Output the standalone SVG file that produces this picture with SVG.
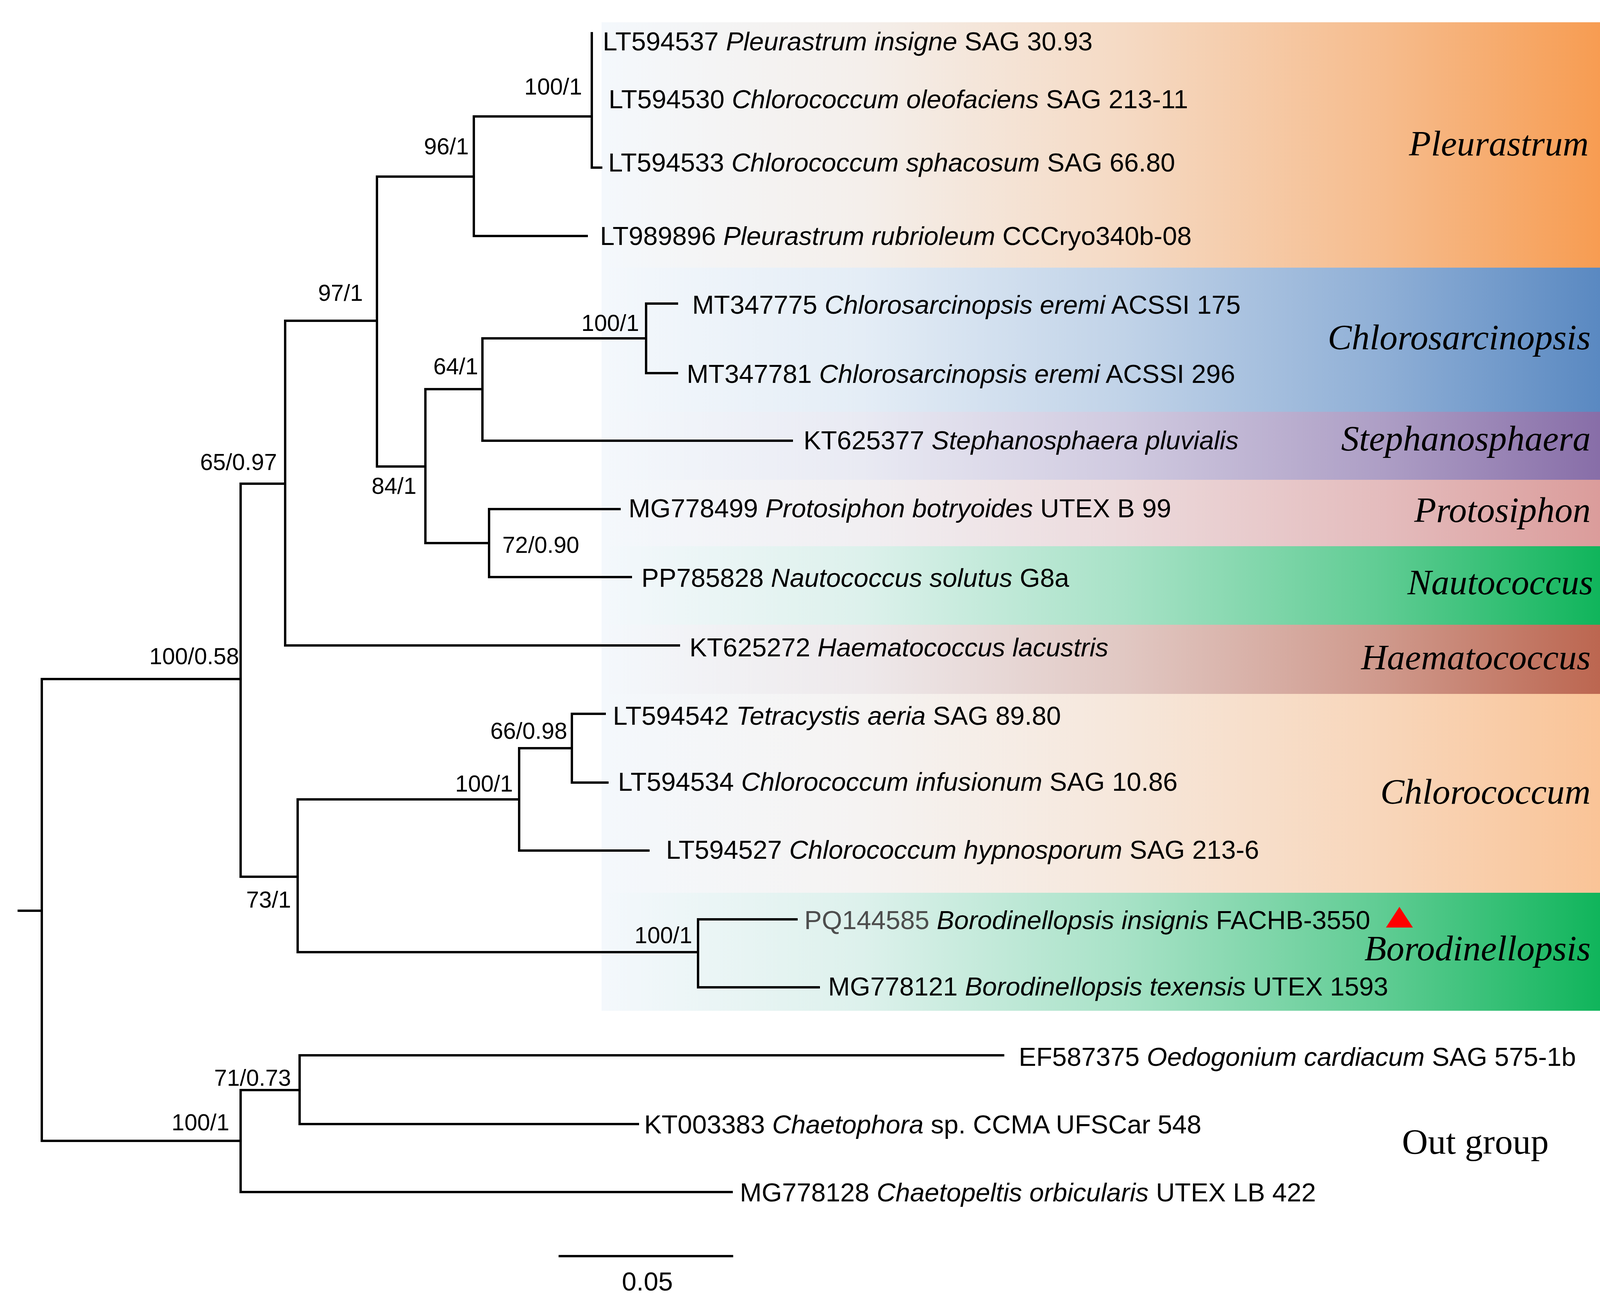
<svg xmlns="http://www.w3.org/2000/svg" width="4248" height="3335" viewBox="0 0 4248 3335">
<style>
.br{fill:none;stroke:#000;stroke-width:6;stroke-linejoin:miter}
.tip{font-family:"Liberation Sans",Arial,sans-serif;font-size:67px;fill:#000}
.sup{font-family:"Liberation Sans",Arial,sans-serif;font-size:59px;fill:#000}
.clade{font-family:"Liberation Serif","Times New Roman",serif;font-style:italic;font-size:92px;fill:#000}
.i{font-style:italic}
</style>
<defs>
<linearGradient id="gPl" x1="0" y1="0" x2="1" y2="0"><stop offset="0" stop-color="#f4f8fc"/><stop offset="0.25" stop-color="#f4efeb"/><stop offset="0.5" stop-color="#f5dac4"/><stop offset="0.75" stop-color="#f6bc8d"/><stop offset="1" stop-color="#f79646"/></linearGradient>
<linearGradient id="gCs" x1="0" y1="0" x2="1" y2="0"><stop offset="0" stop-color="#f4f8fc"/><stop offset="0.25" stop-color="#e4edf6"/><stop offset="0.5" stop-color="#c1d3e8"/><stop offset="0.75" stop-color="#8fafd6"/><stop offset="1" stop-color="#4f81bd"/></linearGradient>
<linearGradient id="gSt" x1="0" y1="0" x2="1" y2="0"><stop offset="0" stop-color="#f4f8fc"/><stop offset="0.25" stop-color="#e9eaf3"/><stop offset="0.5" stop-color="#d0cae0"/><stop offset="0.75" stop-color="#ad9ec5"/><stop offset="1" stop-color="#8064a2"/></linearGradient>
<linearGradient id="gPr" x1="0" y1="0" x2="1" y2="0"><stop offset="0" stop-color="#f4f8fc"/><stop offset="0.25" stop-color="#f1eff2"/><stop offset="0.5" stop-color="#ecdadc"/><stop offset="0.75" stop-color="#e4bcbd"/><stop offset="1" stop-color="#d99694"/></linearGradient>
<linearGradient id="gGr" x1="0" y1="0" x2="1" y2="0"><stop offset="0" stop-color="#f4f8fc"/><stop offset="0.25" stop-color="#ddf1ec"/><stop offset="0.5" stop-color="#a8e2c7"/><stop offset="0.75" stop-color="#5fcc93"/><stop offset="1" stop-color="#00b050"/></linearGradient>
<linearGradient id="gHa" x1="0" y1="0" x2="1" y2="0"><stop offset="0" stop-color="#f4f8fc"/><stop offset="0.25" stop-color="#eee9eb"/><stop offset="0.5" stop-color="#e1c8c3"/><stop offset="0.75" stop-color="#cf998c"/><stop offset="1" stop-color="#b85c44"/></linearGradient>
<linearGradient id="gCc" x1="0" y1="0" x2="1" y2="0"><stop offset="0" stop-color="#f4f8fc"/><stop offset="0.25" stop-color="#f5f3f2"/><stop offset="0.5" stop-color="#f6e7db"/><stop offset="0.75" stop-color="#f8d6ba"/><stop offset="1" stop-color="#fac090"/></linearGradient>
</defs>
<rect width="4248" height="3335" fill="#fff"/>
<g id="clades">
<g id="clade-pleurastrum"><rect x="1540" y="57" width="2668" height="628" fill="url(#gPl)"/><text class="clade" x="3607" y="398">Pleurastrum</text></g>
<g id="clade-chlorosarcinopsis"><rect x="1540" y="685" width="2668" height="369" fill="url(#gCs)"/><text class="clade" x="4072" y="894" text-anchor="end">Chlorosarcinopsis</text></g>
<g id="clade-stephanosphaera"><rect x="1540" y="1054" width="2668" height="174" fill="url(#gSt)"/><text class="clade" x="4072" y="1153" text-anchor="end">Stephanosphaera</text></g>
<g id="clade-protosiphon"><rect x="1540" y="1228" width="2668" height="170" fill="url(#gPr)"/><text class="clade" x="4072" y="1336" text-anchor="end">Protosiphon</text></g>
<g id="clade-nautococcus"><rect x="1540" y="1398" width="2668" height="201" fill="url(#gGr)"/><text class="clade" x="3603" y="1521">Nautococcus</text></g>
<g id="clade-haematococcus"><rect x="1540" y="1599" width="2668" height="177" fill="url(#gHa)"/><text class="clade" x="4072" y="1713" text-anchor="end">Haematococcus</text></g>
<g id="clade-chlorococcum"><rect x="1540" y="1776" width="2668" height="509" fill="url(#gCc)"/><text class="clade" x="4072" y="2057" text-anchor="end">Chlorococcum</text></g>
<g id="clade-borodinellopsis"><rect x="1540" y="2285" width="2668" height="302" fill="url(#gGr)"/><text class="clade" x="4072" y="2458" text-anchor="end">Borodinellopsis</text></g>
<g id="clade-outgroup"><text class="clade" style="font-style:normal" x="3589" y="2953">Out group</text></g>
</g>
<g id="connectors">
<path class="br" d="M45,2331 H107"/>
<path class="br" d="M616,1738 H107 V2920 H616"/>
<path class="br" d="M730,1238 H616 V2244 H762"/>
<path class="br" d="M965,821 H730 V1652 H1741"/>
<path class="br" d="M1213,452 H965 V1194 H1089"/>
<path class="br" d="M1515,298 H1213 V604 H1505"/>
<path class="br" d="M1515,82 V429 H1542"/>
<path class="br" d="M1235,996 H1089 V1390 H1252"/>
<path class="br" d="M1654,866 H1235 V1128 H2030"/>
<path class="br" d="M1736,777 H1654 V955 H1736"/>
<path class="br" d="M1589,1303 H1252 V1477 H1618"/>
<path class="br" d="M1329,2046 H762 V2437 H1787"/>
<path class="br" d="M1464,1915 H1329 V2177 H1663"/>
<path class="br" d="M1551,1827 H1464 V2003 H1558"/>
<path class="br" d="M2042,2353 H1787 V2527 H2099"/>
<path class="br" d="M767,2790 H616 V3051 H1876"/>
<path class="br" d="M2571,2701 H767 V2877 H1636"/>
</g>
<g id="support">
<text class="sup" id="n-pleur" x="1490" y="242" text-anchor="end">100/1</text>
<text class="sup" id="n-96" x="1200" y="395" text-anchor="end">96/1</text>
<text class="sup" id="n-97" x="929" y="770" text-anchor="end">97/1</text>
<text class="sup" id="n-chs" x="1636" y="847" text-anchor="end">100/1</text>
<text class="sup" id="n-64" x="1224" y="958" text-anchor="end">64/1</text>
<text class="sup" id="n-65" x="709" y="1203" text-anchor="end">65/0.97</text>
<text class="sup" id="n-84" x="1066" y="1264" text-anchor="end">84/1</text>
<text class="sup" id="n-72" x="1286" y="1415">72/0.90</text>
<text class="sup" id="n-100-058" x="612" y="1700" text-anchor="end">100/0.58</text>
<text class="sup" id="n-66" x="1452" y="1891" text-anchor="end">66/0.98</text>
<text class="sup" id="n-chc" x="1313" y="2026" text-anchor="end">100/1</text>
<text class="sup" id="n-73" x="745" y="2323" text-anchor="end">73/1</text>
<text class="sup" id="n-bor" x="1772" y="2414" text-anchor="end">100/1</text>
<text class="sup" id="n-71" x="745" y="2779" text-anchor="end">71/0.73</text>
<text class="sup" id="n-out" x="587" y="2893" text-anchor="end">100/1</text>
</g>
<g id="tips">
<g id="t1"><text class="tip" x="1543" y="129">LT594537 <tspan class="i">Pleurastrum insigne</tspan> SAG 30.93</text></g>
<g id="t2"><text class="tip" x="1558" y="277">LT594530 <tspan class="i">Chlorococcum oleofaciens</tspan> SAG 213-11</text></g>
<g id="t3"><text class="tip" x="1557" y="439">LT594533 <tspan class="i">Chlorococcum sphacosum</tspan> SAG 66.80</text></g>
<g id="t4"><text class="tip" x="1536" y="627">LT989896 <tspan class="i">Pleurastrum rubrioleum</tspan> CCCryo340b-08</text></g>
<g id="t5"><text class="tip" x="1772" y="803">MT347775 <tspan class="i">Chlorosarcinopsis eremi</tspan> ACSSI 175</text></g>
<g id="t6"><text class="tip" x="1758" y="980">MT347781 <tspan class="i">Chlorosarcinopsis eremi</tspan> ACSSI 296</text></g>
<g id="t7"><text class="tip" x="2057" y="1150">KT625377 <tspan class="i">Stephanosphaera pluvialis</tspan></text></g>
<g id="t8"><text class="tip" x="1609" y="1324">MG778499 <tspan class="i">Protosiphon botryoides</tspan> UTEX B 99</text></g>
<g id="t9"><text class="tip" x="1642" y="1502">PP785828 <tspan class="i">Nautococcus solutus</tspan> G8a</text></g>
<g id="t10"><text class="tip" x="1765" y="1680">KT625272 <tspan class="i">Haematococcus lacustris</tspan></text></g>
<g id="t11"><text class="tip" x="1569" y="1855">LT594542 <tspan class="i">Tetracystis aeria</tspan> SAG 89.80</text></g>
<g id="t12"><text class="tip" x="1582" y="2024">LT594534 <tspan class="i">Chlorococcum infusionum</tspan> SAG 10.86</text></g>
<g id="t13"><text class="tip" x="1705" y="2198">LT594527 <tspan class="i">Chlorococcum hypnosporum</tspan> SAG 213-6</text></g>
<g id="t14"><text class="tip" x="2059" y="2378"><tspan fill="#4d4d4d">PQ144585</tspan> <tspan class="i">Borodinellopsis insignis</tspan> FACHB-3550</text><polygon points="3548,2374 3617,2374 3582.5,2321" fill="#ff0000"/></g>
<g id="t15"><text class="tip" x="2120" y="2548">MG778121 <tspan class="i">Borodinellopsis texensis</tspan> UTEX 1593</text></g>
<g id="t16"><text class="tip" x="2608" y="2728">EF587375 <tspan class="i">Oedogonium cardiacum</tspan> SAG 575-1b</text></g>
<g id="t17"><text class="tip" x="1649" y="2901">KT003383 <tspan class="i">Chaetophora</tspan> sp. CCMA UFSCar 548</text></g>
<g id="t18"><text class="tip" x="1894" y="3075">MG778128 <tspan class="i">Chaetopeltis orbicularis</tspan> UTEX LB 422</text></g>
</g>
<g id="scalebar">
<path class="br" d="M1430,3215 H1877"/>
<text class="tip" x="1592" y="3303">0.05</text>
</g>
</svg>
